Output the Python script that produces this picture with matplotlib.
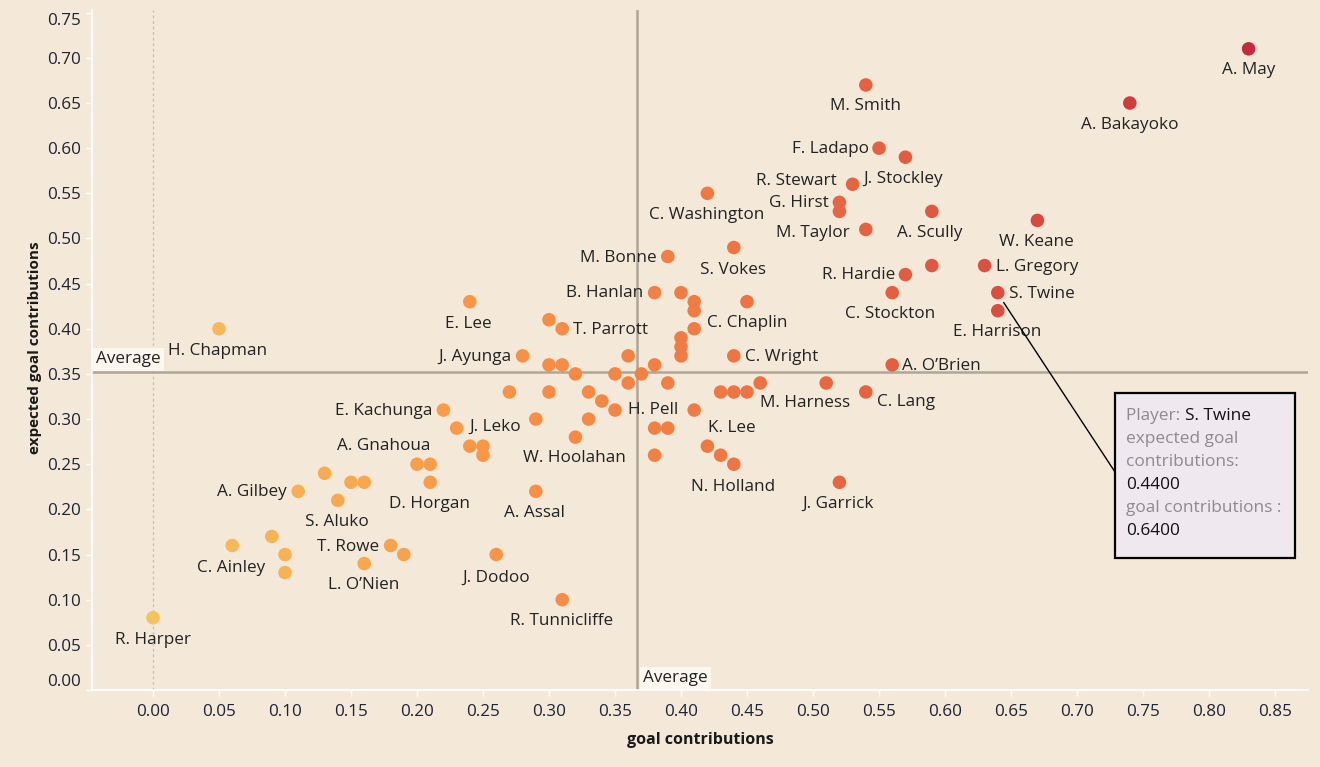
import matplotlib
matplotlib.use("Agg")
import matplotlib.pyplot as plt
import numpy as np
from matplotlib.colors import LinearSegmentedColormap, Normalize
from matplotlib.patches import Rectangle
from matplotlib.lines import Line2D
from matplotlib.text import Annotation

plt.rcParams['font.family'] = ['Open Sans', 'DejaVu Sans']

# ---------------- data ----------------
goal_contributions = [
    0.83, 0.74, 0.54, 0.55, 0.57, 0.53, 0.52, 0.52, 0.54, 0.59,
    0.67, 0.59, 0.63, 0.57, 0.56, 0.64, 0.64, 0.56, 0.54, 0.51,
    0.52, 0.42, 0.44, 0.39, 0.38, 0.40, 0.41, 0.41, 0.45, 0.41,
    0.40, 0.40, 0.40, 0.44, 0.24, 0.30, 0.31, 0.28, 0.30, 0.31,
    0.32, 0.36, 0.35, 0.36, 0.37, 0.38, 0.39, 0.46, 0.43, 0.44,
    0.45, 0.41, 0.38, 0.39, 0.38, 0.42, 0.43, 0.44, 0.27, 0.30,
    0.33, 0.34, 0.35, 0.33, 0.29, 0.32, 0.22, 0.23, 0.24, 0.25,
    0.25, 0.20, 0.21, 0.21, 0.13, 0.15, 0.16, 0.11, 0.14, 0.09,
    0.06, 0.10, 0.10, 0.18, 0.19, 0.16, 0.26, 0.31, 0.00, 0.05,
    0.29,
]
expected_goal_contributions = [
    0.71, 0.65, 0.67, 0.60, 0.59, 0.56, 0.54, 0.53, 0.51, 0.53,
    0.52, 0.47, 0.47, 0.46, 0.44, 0.44, 0.42, 0.36, 0.33, 0.34,
    0.23, 0.55, 0.49, 0.48, 0.44, 0.44, 0.43, 0.42, 0.43, 0.40,
    0.39, 0.38, 0.37, 0.37, 0.43, 0.41, 0.40, 0.37, 0.36, 0.36,
    0.35, 0.37, 0.35, 0.34, 0.35, 0.36, 0.34, 0.34, 0.33, 0.33,
    0.33, 0.31, 0.29, 0.29, 0.26, 0.27, 0.26, 0.25, 0.33, 0.33,
    0.33, 0.32, 0.31, 0.30, 0.30, 0.28, 0.31, 0.29, 0.27, 0.27,
    0.26, 0.25, 0.25, 0.23, 0.24, 0.23, 0.23, 0.22, 0.21, 0.17,
    0.16, 0.15, 0.13, 0.16, 0.15, 0.14, 0.15, 0.10, 0.08, 0.40,
    0.22,
]
players = [
    "A. May", "A. Bakayoko", "M. Smith", "F. Ladapo", "J. Stockley", "R. Stewart", "G. Hirst", "", "M. Taylor", "A. Scully",
    "W. Keane", "", "L. Gregory", "R. Hardie", "C. Stockton", "S. Twine", "E. Harrison", "A. O\u2019Brien", "C. Lang", "M. Harness",
    "J. Garrick", "C. Washington", "S. Vokes", "M. Bonne", "B. Hanlan", "", "", "", "", "C. Chaplin",
    "", "", "", "C. Wright", "E. Lee", "", "T. Parrott", "J. Ayunga", "", "",
    "", "", "", "", "", "", "", "", "", "",
    "", "K. Lee", "", "", "", "", "", "N. Holland", "", "",
    "", "", "H. Pell", "", "", "W. Hoolahan", "E. Kachunga", "J. Leko", "", "",
    "", "A. Gnahoua", "", "D. Horgan", "", "", "", "A. Gilbey", "S. Aluko", "",
    "C. Ainley", "", "", "T. Rowe", "", "L. O\u2019Nien", "J. Dodoo", "R. Tunnicliffe", "R. Harper", "H. Chapman",
    "A. Assal",
]
average_goal_contributions = 0.367
average_expected_goal_contributions = 0.352
x_ticks = [0.00, 0.05, 0.10, 0.15, 0.20, 0.25, 0.30, 0.35, 0.40, 0.45,
           0.50, 0.55, 0.60, 0.65, 0.70, 0.75, 0.80, 0.85]
y_ticks = [0.00, 0.05, 0.10, 0.15, 0.20, 0.25, 0.30, 0.35, 0.40, 0.45,
           0.50, 0.55, 0.60, 0.65, 0.70, 0.75]
tooltip_player = "S. Twine"
tooltip_xgc = 0.44
tooltip_gc = 0.64

# label placement (pixel offsets, alignment) - styling only
label_style = {
    "A. May": (0, -21, 'center'), "A. Bakayoko": (0, -22, 'center'), "M. Smith": (0, -21, 'center'),
    "F. Ladapo": (-10, -1, 'right'), "J. Stockley": (-2, -22, 'center'), "R. Stewart": (-16, 3, 'right'),
    "G. Hirst": (-11, -1, 'right'), "M. Taylor": (-16, -4, 'right'), "A. Scully": (-2, -22, 'center'),
    "W. Keane": (-1, -22, 'center'), "L. Gregory": (11, -1, 'left'), "R. Hardie": (-10, 0, 'right'),
    "C. Stockton": (-2, -21, 'center'), "S. Twine": (11, -1, 'left'), "E. Harrison": (-1, -21, 'center'),
    "A. O\u2019Brien": (10, -1, 'left'), "C. Lang": (11, -10, 'left'), "M. Harness": (-21, -20, 'center'),
    "J. Garrick": (-1, -22, 'center'), "C. Washington": (-1, -22, 'center'), "S. Vokes": (-1, -22, 'center'),
    "M. Bonne": (-11, -1, 'right'), "B. Hanlan": (-11, 0, 'right'), "C. Chaplin": (13, 6, 'left'),
    "C. Wright": (11, -1, 'left'), "E. Lee": (-1, -22, 'center'), "T. Parrott": (11, -1, 'left'),
    "J. Ayunga": (-11, -1, 'right'), "K. Lee": (14, -18, 'left'), "N. Holland": (-1, -23, 'center'),
    "H. Pell": (13, 0, 'left'), "W. Hoolahan": (-1, -21, 'center'), "E. Kachunga": (-11, -1, 'right'),
    "J. Leko": (13, 1, 'left'), "A. Gnahoua": (-33, 18, 'center'), "D. Horgan": (-1, -22, 'center'),
    "A. Gilbey": (-11, -1, 'right'), "S. Aluko": (-1, -22, 'center'), "C. Ainley": (-1, -22, 'center'),
    "T. Rowe": (-11, -1, 'right'), "L. O\u2019Nien": (-1, -21, 'center'), "J. Dodoo": (0, -23, 'center'),
    "R. Tunnicliffe": (-1, -21, 'center'), "R. Harper": (0, -22, 'center'), "H. Chapman": (-1, -22, 'center'),
    "A. Assal": (-1, -22, 'center'),
}

# ---------------- figure ----------------
BG = '#F4E9D9'
TXT = '#222222'
FS = 12.3
W, H = 1320, 767
fig = plt.figure(figsize=(W / 100, H / 100), dpi=100, facecolor=BG)
ax_l, ax_r, ax_t, ax_b = 92, 1308, 10, 690
ax = fig.add_axes([ax_l / W, 1 - ax_b / H, (ax_r - ax_l) / W, (ax_b - ax_t) / H])
ax.set_facecolor(BG)
ax.set_xlim(-0.0462, 0.875)
ax.set_ylim(0.0, 0.753)

cmap = LinearSegmentedColormap.from_list(
    'tab', [(0.0, '#F6C25C'), (0.3, '#FA9646'), (0.5, '#F07A43'),
            (0.7, '#E25A40'), (1.0, '#C62A3C')])
norm = Normalize(0.0, 0.83)

# zero line and average lines
ax.axvline(0, color='#C9C1B6', lw=1, ls=(0, (2, 2)), zorder=1)
ax.axhline(average_expected_goal_contributions, color='#AFA698', lw=1.8, zorder=2)
ax.axvline(average_goal_contributions, color='#AFA698', lw=1.8, zorder=2)

x = np.array(goal_contributions)
y = np.array(expected_goal_contributions)
ax.scatter(x, y, s=95, c=cmap(norm(x)), edgecolors='none', zorder=3)

for xi, yi, name in zip(x, y, players):
    if not name:
        continue
    dx, dy, ha = label_style[name]
    ax.annotate(name, (xi, yi), xytext=(dx, dy), textcoords='offset pixels',
                ha=ha, va='center', fontsize=FS, color=TXT, zorder=4)

# Average labels
ax.annotate('Average', (ax.get_xlim()[0], average_expected_goal_contributions),
            xytext=(4, 13), textcoords='offset pixels', ha='left', va='center',
            fontsize=FS, color=TXT, zorder=5,
            bbox=dict(boxstyle='square,pad=0.2', fc='#FBF6EE', ec='none'))
ax.annotate('Average', (average_goal_contributions, 0.0),
            xytext=(6, 12), textcoords='offset pixels', ha='left', va='center',
            fontsize=FS, color=TXT, zorder=5,
            bbox=dict(boxstyle='square,pad=0.2', fc='#FBF6EE', ec='none'))

# axes styling
for s in ['top', 'right']:
    ax.spines[s].set_visible(False)
for s in ['left', 'bottom']:
    ax.spines[s].set_color('white')
    ax.spines[s].set_linewidth(1.2)
ax.set_xticks(x_ticks)
ax.set_yticks(y_ticks)
ax.set_xticklabels([f'{v:.2f}' for v in x_ticks])
ax.set_yticklabels([f'{v:.2f}' for v in y_ticks])
ax.tick_params(axis='both', colors='white', length=4, width=1, labelcolor='#1E2433', labelsize=FS)
ax.tick_params(axis='x', pad=6)
ax.tick_params(axis='y', pad=4)
ylabels = ax.get_yticklabels()
ylabels[0].set_va('bottom')
ylabels[-1].set_va('top')
ax.set_xlabel('goal contributions', fontsize=11.5, fontweight='bold', color='#1A1A1A')
ax.set_ylabel('expected goal contributions', fontsize=11, fontweight='bold', color='#1A1A1A')
ax.xaxis.set_label_coords((700 - ax_l) / (ax_r - ax_l), -(740 - ax_b) / (ax_b - ax_t))
ax.yaxis.set_label_coords(-(ax_l - 35) / (ax_r - ax_l), (ax_b - 348) / (ax_b - ax_t))
ax.xaxis.label.set_va('center')
ax.yaxis.label.set_va('center')

# tooltip
bx0, by0, bx1, by1 = 1115, 393, 1295, 558
fig.patches.append(Rectangle((bx0 / W, 1 - by1 / H), (bx1 - bx0) / W, (by1 - by0) / H,
                             transform=fig.transFigure, fc='#EFE8EF', ec='black', lw=1.6, zorder=10))
px, py = ax.transData.transform((tooltip_gc, tooltip_xgc))
fig.add_artist(Line2D([(px + 6) / W, bx0 / W], [(py - 10) / H, 1 - 472 / H],
                      transform=fig.transFigure, color='black', lw=1, zorder=9))
gray = '#8E8A8E'
lines = [
    [("Player: ", gray), (tooltip_player, '#111111')],
    [("expected goal", gray)],
    [("contributions:", gray)],
    [(f"{tooltip_xgc:.4f}", '#111111')],
    [("goal contributions :", gray)],
    [(f"{tooltip_gc:.4f}", '#111111')],
]
ty = 416
for parts in lines:
    t = None
    for k, (txt, col) in enumerate(parts):
        if k == 0:
            t = fig.text(1126 / W, 1 - ty / H, txt, color=col, fontsize=12.4, va='center', ha='left', zorder=11)
        else:
            a = Annotation(txt, xy=(1, 0.5), xycoords=t, va='center', ha='left',
                           color=col, fontsize=12.4, annotation_clip=False, zorder=12)
            fig.add_artist(a)
            t = a
    ty += 23

fig.savefig('out.png', dpi=100, facecolor=BG)
